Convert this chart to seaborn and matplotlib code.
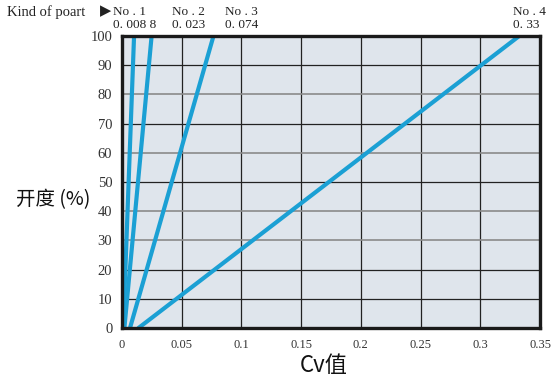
import matplotlib
matplotlib.use("Agg")
import matplotlib.pyplot as plt
import seaborn as sns
import pandas as pd

# ---- data ----
series_names = ["No.1", "No.2", "No.3", "No.4"]
rated_cv = ["0.008 8", "0.023", "0.074", "0.33"]
cv_start = [0.001, 0.002, 0.0067, 0.0138]   # Cv at 0 % opening
cv_end = [0.0101, 0.0248, 0.0766, 0.3326]   # Cv at 100 % opening
opening = [0, 100]

x_ticks = [0, 0.05, 0.1, 0.15, 0.2, 0.25, 0.3, 0.35]
x_tick_labels = ["0", "0.05", "0.1", "0.15", "0.2", "0.25", "0.3", "0.35"]
y_ticks = [0, 10, 20, 30, 40, 50, 60, 70, 80, 90, 100]
y_tick_labels = ["0", "10", "20", "30", "40", "50", "60", "70", "80", "90", "100"]

rows = []
for name, a, b in zip(series_names, cv_start, cv_end):
    rows.append({"series": name, "cv": a, "open": opening[0]})
    rows.append({"series": name, "cv": b, "open": opening[1]})
df = pd.DataFrame(rows)

sns.set_theme(style="white")
serif = ["Liberation Serif", "DejaVu Serif", "DejaVu Sans"]
cjk = ["Noto Sans CJK SC", "DejaVu Sans"]
plt.rcParams["font.family"] = serif

line_color = "#1ba0d4"
fig = plt.figure(figsize=(5.56, 3.80), dpi=100)
ax = fig.add_axes([122 / 556, 1 - 328 / 380, (540 - 122) / 556, (328 - 36) / 380])
ax.set_facecolor("#dfe5ec")

sns.lineplot(data=df, x="cv", y="open", hue="series",
             palette={n: line_color for n in series_names},
             estimator=None, sort=False, linewidth=3.0, legend=False, ax=ax,
             zorder=3)

ax.set_xlim(0, 0.35)
ax.set_ylim(0, 100)
ax.set_xticks(x_ticks)
ax.set_xticklabels(x_tick_labels)
ax.set_yticks(y_ticks)
ax.set_yticklabels(y_tick_labels)
ax.tick_params(axis="both", length=0, colors="#333333")
ax.tick_params(axis="x", labelsize=9, pad=8)
ax.tick_params(axis="y", labelsize=10.5, pad=7)

ax.grid(True, zorder=1)
for gl in ax.get_xgridlines():
    gl.set_color("#222222")
    gl.set_linewidth(0.9)
grid_dark = {10: True, 20: True, 30: False, 40: False, 50: True, 60: False,
             70: True, 80: False, 90: True}
for val, gl in zip(y_ticks, ax.get_ygridlines()):
    dark = grid_dark.get(val, True)
    gl.set_color("#222222" if dark else "#8a8a8a")
    gl.set_linewidth(0.9 if dark else 1.2)

for sp in ax.spines.values():
    sp.set_visible(True)
    sp.set_color("#1a1a1a")
    sp.set_linewidth(2.4)
    sp.set_zorder(4)

ax.set_xlabel("Cv值", family=cjk, fontsize=16, color="#111111")
ax.xaxis.set_label_coords(0.483, -0.13)
ax.xaxis.label.set_va("center")
ax.set_ylabel("开度 (%)", family=cjk, fontsize=14, rotation=0, color="#111111")
ax.yaxis.set_label_coords(-0.165, 0.44)
ax.yaxis.label.set_va("center")
ax.yaxis.label.set_ha("center")

# top labels
ttxt = dict(color="#222222", va="center")
fig.text(7 / 556, 1 - 12 / 380, "Kind of poart", family=serif, fontsize=10.5,
         ha="left", **ttxt)
fig.text(100 / 556, 1 - 11 / 380, "▶", family=["DejaVu Sans"], fontsize=10.5,
         ha="left", **ttxt)
name_x = [113, 172, 225, 513]
for nm, cv, x in zip(series_names, rated_cv, name_x):
    fig.text(x / 556, 1 - 12 / 380, nm.replace(".", " . "), family=serif,
             fontsize=9.5, ha="left", **ttxt)
    fig.text(x / 556, 1 - 25 / 380, cv.replace(".", ". "), family=serif,
             fontsize=9.5, ha="left", **ttxt)

fig.savefig("out.png", dpi=100, facecolor="white")
